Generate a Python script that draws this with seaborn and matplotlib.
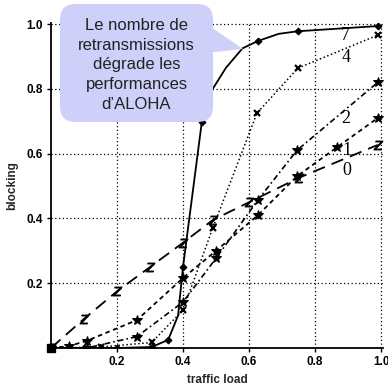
import seaborn as sns
import matplotlib.pyplot as plt
import pandas as pd
from matplotlib.patches import FancyBboxPatch, Polygon

# --- data (traffic load -> blocking) ---
load0 = [0.0, 0.10, 0.20, 0.30, 0.40, 0.49, 0.60, 0.75, 0.99]
block0 = [0.0, 0.09, 0.175, 0.25, 0.325, 0.395, 0.45, 0.525, 0.627]

load1 = [0.0, 0.055, 0.108, 0.26, 0.40, 0.50, 0.627, 0.745, 0.867, 0.99]
block1 = [0.0, 0.006, 0.022, 0.086, 0.216, 0.30, 0.41, 0.53, 0.62, 0.71]

load2 = [0.0, 0.108, 0.26, 0.40, 0.50, 0.627, 0.745, 0.99]
block2 = [0.0, 0.0, 0.035, 0.142, 0.277, 0.457, 0.61, 0.82]

load4 = [0.0, 0.15, 0.305, 0.40, 0.49, 0.624, 0.748, 0.99]
block4 = [0.0, 0.003, 0.017, 0.117, 0.37, 0.725, 0.864, 0.966]

# curve 7 has a few extra points (no marker there)
load7 = [0.0, 0.10, 0.20, 0.305, 0.355, 0.385, 0.40, 0.457, 0.49, 0.53, 0.58, 0.627, 0.69, 0.748, 0.99]
block7 = [0.0, 0.0, 0.0, 0.003, 0.025, 0.10, 0.25, 0.698, 0.80, 0.865, 0.925, 0.948, 0.97, 0.978, 0.994]
marks7 = [0, 1, 2, 3, 4, 6, 7, 11, 13, 14]

curve_names = ['0', '1', '2', '4', '7']
label_x = [0.897, 0.897, 0.893, 0.893, 0.893]
label_y = [0.549, 0.611, 0.71, 0.898, 0.966]

xticks = [0.2, 0.4, 0.6, 0.8, 1.0]
yticks = [0.2, 0.4, 0.6, 0.8, 1.0]

note = "Le nombre de\nretransmissions\ndégrade les\nperformances\nd\u2019ALOHA"

sns.set_style('ticks')
plt.rcParams['font.family'] = ['Liberation Sans', 'DejaVu Sans']

W = 388
fig = plt.figure(figsize=(3.88, 3.88), dpi=100)
ax = fig.add_axes([51 / W, 1 - 348 / W, 332 / W, 325.5 / W])

k = 'black'
sns.lineplot(x=load0, y=block0, ax=ax, color=k, lw=1.3, linestyle=(0, (7, 4)),
             marker='$Z$', markersize=6.5, mew=0.6, mec=k, mfc=k)
sns.lineplot(x=load1, y=block1, ax=ax, color=k, lw=1.3, linestyle=(0, (2.5, 2)),
             marker='*', markersize=7, mec=k, mfc=k)
sns.lineplot(x=load2, y=block2, ax=ax, color=k, lw=1.2, linestyle=(0, (3.5, 1.8, 1, 1.8)),
             marker='*', markersize=7, mec=k, mfc=k)
sns.lineplot(x=load4, y=block4, ax=ax, color=k, lw=1.1, linestyle=(0, (1, 1.6)),
             marker='x', markersize=5, mew=1.6, mec=k)
sns.lineplot(x=load7, y=block7, ax=ax, color=k, lw=1.3, linestyle='-',
             marker='D', markersize=3.5, mec=k, mfc=k, markevery=marks7)
ax.plot([load7[0]], [block7[0]], marker='s', color=k, markersize=6, clip_on=False, zorder=5)

for name, lx, ly in zip(curve_names, label_x, label_y):
    ax.text(lx, ly, name, ha='center', va='center', fontsize=13,
            family='Liberation Serif', color=k)

ax.set_xlim(0, 1.006)
ax.set_ylim(0, 1.005)
ax.set_xticks(xticks)
ax.set_yticks(yticks)
ax.set_xticklabels([f'{v:.1f}' for v in xticks], fontweight='bold', fontsize=8.5)
ax.set_yticklabels([f'{v:.1f}' for v in yticks], fontweight='bold', fontsize=8.5)
ax.tick_params(direction='out', length=3, width=1, pad=3, colors=k)
ax.grid(True, linestyle=(0, (1, 2)), color=k, lw=0.9)
sns.despine(ax=ax)
for s in ['left', 'bottom']:
    ax.spines[s].set_linewidth(1.3)
    ax.spines[s].set_color(k)
ax.set_xlabel('traffic load', fontweight='bold', fontsize=8.5, labelpad=4)
ax.set_ylabel('blocking', fontweight='bold', fontsize=8.5, labelpad=6)

# callout bubble
bubble = '#cfd0fa'
fig.add_artist(Polygon([(205 / W, 1 - 23 / W), (243 / W, 1 - 49 / W), (205 / W, 1 - 53 / W)],
                       closed=True, transform=fig.transFigure, fc=bubble, ec='none', zorder=10))
fig.add_artist(FancyBboxPatch((60 / W, 1 - 122 / W), 153 / W, 118 / W,
                              boxstyle='round,pad=0,rounding_size=0.04',
                              transform=fig.transFigure, fc=bubble, ec='none', zorder=10))
fig.text(136.5 / W, 1 - 65 / W, note, ha='center', va='center', fontsize=12,
         linespacing=1.4, color='#222222', zorder=11)

fig.savefig('out.png', dpi=100)
